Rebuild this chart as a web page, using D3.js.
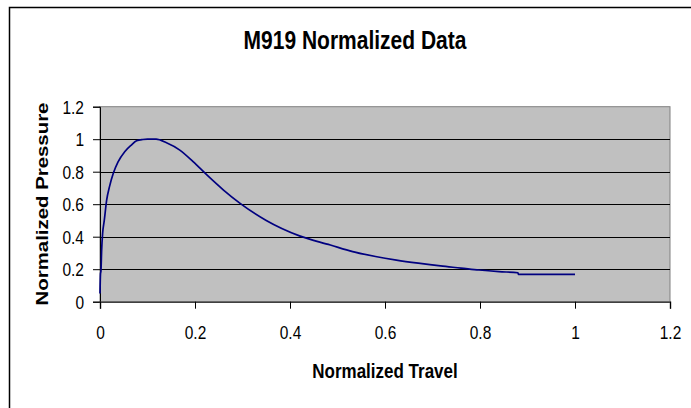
<!DOCTYPE html>
<html>
<head>
<meta charset="utf-8">
<script src="https://cdn.jsdelivr.net/npm/d3@7"></script>
<style>
  body { margin: 0; background: #fff; }
  text { font-family: Arial, "Liberation Sans", sans-serif; }
</style>
</head>
<body>
<svg id="chart" width="691" height="408"></svg>
<script>
// Normalized travel (x) and pressure (y)
var travel = [0, 0.001, 0.002, 0.0035, 0.0055, 0.009, 0.014, 0.02, 0.028, 0.038,
    0.052, 0.066, 0.077, 0.09, 0.1, 0.118, 0.14, 0.168, 0.196, 0.225,
    0.26, 0.295, 0.35, 0.42, 0.485, 0.532, 0.58, 0.624,
    0.67, 0.717, 0.76, 0.798, 0.84, 0.88, 0.881, 0.94, 1.0];
var pressure = [0.05, 0.17, 0.19, 0.32, 0.42, 0.5, 0.625, 0.708, 0.79, 0.86,
    0.923, 0.964, 0.99, 0.998, 1.0, 1.0, 0.978, 0.933, 0.862, 0.78,
    0.687, 0.605, 0.5, 0.405, 0.349, 0.308, 0.278, 0.256,
    0.237, 0.22, 0.207, 0.195, 0.185, 0.178, 0.168, 0.168, 0.168];
var xTicks = [0, 0.2, 0.4, 0.6, 0.8, 1, 1.2];
var yTicks = [0, 0.2, 0.4, 0.6, 0.8, 1, 1.2];

var titleText = "M919 Normalized Data";
var xTitle = "Normalized Travel";
var yTitle = "Normalized Pressure";

// The text in the original is stretched a bit vertically
const stretch = 1.2;

var svg = d3.select("#chart");
var plot = { left: 100, right: 670, top: 106.7, bottom: 301.7 };

var x = d3.scaleLinear().domain([0, 1.2]).range([plot.left, plot.right]);
var y = d3.scaleLinear().domain([0, 1.2]).range([plot.bottom, plot.top]);

// Outer chart frame, cut off on the right and bottom
svg.append("rect")
    .attr("x", 9.5).attr("y", 7.5)
    .attr("width", 720).attr("height", 440)
    .attr("fill", "#fff")
    .attr("stroke", "#000")
    .attr("stroke-width", 1.5);

// Plot area
svg.append("rect")
    .attr("x", plot.left).attr("y", plot.top)
    .attr("width", plot.right - plot.left).attr("height", plot.bottom - plot.top)
    .attr("fill", "#c0c0c0")
    .attr("stroke", "#808080")
    .attr("stroke-width", 1);

// Gridlines
svg.append("g").selectAll("line")
    .data(yTicks.filter(function (d) { return d > 0 && d < 1.2; }))
    .enter().append("line")
    .attr("x1", plot.left).attr("x2", plot.right)
    .attr("y1", function (d) { return Math.round(y(d)) + 0.5; })
    .attr("y2", function (d) { return Math.round(y(d)) + 0.5; })
    .attr("stroke", "#000")
    .attr("stroke-width", 1);

// Y axis
var yAxis = svg.append("g")
    .attr("transform", "translate(" + plot.left + ",0)")
    .call(d3.axisLeft(y).tickValues(yTicks).tickSize(7).tickFormat(d3.format("")));
yAxis.select(".domain").attr("stroke", "#000");
yAxis.selectAll(".tick line").attr("stroke", "#000");
yAxis.selectAll(".tick text")
    .attr("x", -16)
    .attr("dy", null)
    .attr("y", 6.5 / stretch)
    .attr("transform", "scale(1," + stretch + ")")
    .style("font-size", "15.5px")
    .attr("fill", "#000");

// X axis
var xAxis = svg.append("g")
    .attr("transform", "translate(0," + plot.bottom + ")")
    .call(d3.axisBottom(x).tickValues(xTicks).tickSize(7).tickFormat(d3.format("")));
xAxis.select(".domain").attr("stroke", "#404040").attr("stroke-width", 1.5);
xAxis.selectAll(".tick line").attr("stroke", "#000");
xAxis.selectAll(".tick text")
    .attr("dy", null)
    .attr("y", 37.3 / stretch)
    .attr("transform", "scale(1," + stretch + ")")
    .style("font-size", "15.5px")
    .attr("fill", "#000");

// The curve
var line = d3.line()
    .x(function (d, i) { return x(travel[i]); })
    .y(function (d, i) { return y(pressure[i]); })
    .curve(d3.curveMonotoneX);

svg.append("path")
    .datum(travel)
    .attr("d", line)
    .attr("fill", "none")
    .attr("stroke", "#000080")
    .attr("stroke-width", 1.7);

// Titles
svg.append("text")
    .attr("transform", "translate(355,49) scale(1," + stretch + ")")
    .attr("text-anchor", "middle")
    .style("font-size", "21px")
    .style("font-weight", "bold")
    .text(titleText);

svg.append("text")
    .attr("transform", "translate(385,378) scale(1," + stretch + ")")
    .attr("text-anchor", "middle")
    .style("font-size", "17px")
    .style("font-weight", "bold")
    .text(xTitle);

svg.append("text")
    .attr("transform", "translate(48,204) scale(1," + stretch + ") rotate(-90)")
    .attr("text-anchor", "middle")
    .style("font-size", "17px")
    .style("font-weight", "bold")
    .text(yTitle);
</script>
</body>
</html>
